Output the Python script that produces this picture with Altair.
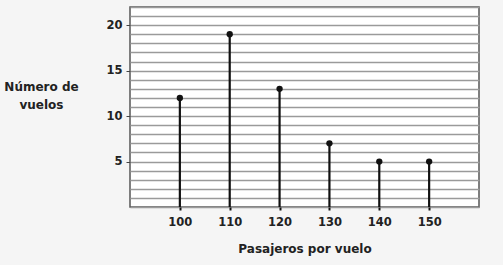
import altair as alt
import pandas as pd

pasajeros = [100, 110, 120, 130, 140, 150]
vuelos = [12, 19, 13, 7, 5, 5]
x_ticks = [100, 110, 120, 130, 140, 150]
y_grid = list(range(0, 23))

df = pd.DataFrame({"pasajeros": pasajeros, "vuelos": vuelos, "base": [0] * len(pasajeros)})

FONT = "DejaVu Sans"

x = alt.X("pasajeros:Q",
          scale=alt.Scale(domain=[90, 160], nice=False, zero=False),
          axis=alt.Axis(values=x_ticks, title="Pasajeros por vuelo", grid=False,
                        domain=False, tickSize=3, tickColor="#111", tickWidth=2,
                        labelPadding=6, titlePadding=16, labelFlush=False))
y = alt.Y("vuelos:Q",
          scale=alt.Scale(domain=[0, 22], nice=False),
          axis=alt.Axis(values=y_grid, grid=True, gridColor="#9a9a9a", gridWidth=1.3,
                        gridOpacity=1, domain=False,
                        labelExpr="datum.value % 5 == 0 && datum.value > 0 ? datum.label : ''",
                        tickSize=4,
                        tickColor={"condition": {"test": "datum.value % 5 == 0 && datum.value > 0", "value": "#444"}, "value": "transparent"},
                        labelPadding=4,
                        title=["Número de", "vuelos"], titleAngle=0,
                        titleX=-89, titleY=79, titleAlign="center", titleBaseline="middle",
                        titleLineHeight=18))

stems = alt.Chart(df).mark_rule(color="#111", strokeWidth=2.2).encode(
    x=x, y=y, y2="base:Q")
dots = alt.Chart(df).mark_circle(color="#111", opacity=1, size=40).encode(x=x, y=y)

chart = alt.layer(stems, dots).properties(
    width=349, height=200,
    padding={"left": 130, "top": 7, "right": 24, "bottom": 58},
    autosize=alt.AutoSizeParams(type="none"),
    background="#f5f5f5",
).configure_view(
    fill="white", stroke="#555", strokeWidth=1.5
).configure_axis(
    labelFont=FONT, titleFont=FONT, labelFontSize=11.5, titleFontSize=12,
    labelFontWeight="bold", titleFontWeight="bold", labelColor="#222", titleColor="#222"
)

chart.save("out.html", embed_options={"renderer": "svg", "actions": False})
